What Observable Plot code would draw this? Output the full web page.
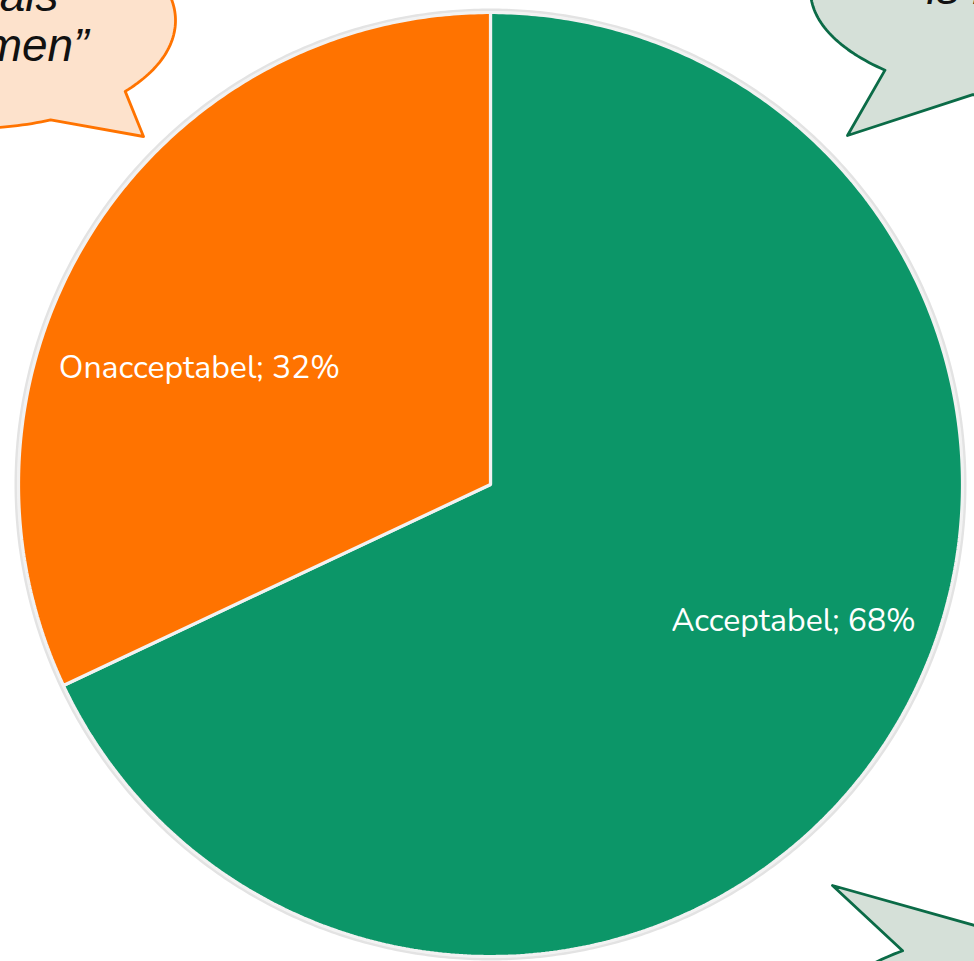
<!DOCTYPE html>
<html>
<head>
<meta charset="utf-8">
<script src="https://cdn.jsdelivr.net/npm/d3@7"></script>
<script src="https://cdn.jsdelivr.net/npm/@observablehq/plot@0.6"></script>
<style>
  html, body { margin: 0; padding: 0; background: #fff; overflow: hidden; }
  #chart svg { display: block; }
</style>
</head>
<body>
<div id="chart"></div>
<script>
// ---- data ----
const categories = ["Acceptabel", "Onacceptabel"];
const shares = [68, 32];
const colors = ["#0C9668", "#FF7300"];
const labels = ["Acceptabel; 68%", "Onacceptabel; 32%"];

// speech-bubble texts (partially visible at the edges)
const bubbleTextLeft = ["als", "men\u201D"];
const bubbleTextRight = ["is bu"];

// ---- layout ----
const W = 974, H = 961;
const cx = 490, cy = 484, R = 472;

const data = categories.map((c, i) => ({name: c, value: shares[i], label: labels[i]}));
const arcs = d3.pie().sort(null).value(d => d.value)(data);

const pt = (a, r) => ({x: cx + r * Math.sin(a), y: cy - r * Math.cos(a)});

// slice polygons
const slicePts = [];
for (const a of arcs) {
  slicePts.push({name: a.data.name, ...pt(0, 0)});
  const n = Math.ceil((a.endAngle - a.startAngle) / (Math.PI / 360));
  for (let k = 0; k <= n; k++) {
    const t = a.startAngle + (a.endAngle - a.startAngle) * k / n;
    slicePts.push({name: a.data.name, ...pt(t, R)});
  }
}
// outer ring
const ringPts = d3.range(0, 721).map(k => pt(k / 720 * 2 * Math.PI, R + 2.5));

// label anchors from mid-angles
const labelPts = arcs.map(a => ({name: a.data.name, label: a.data.label, ...pt((a.startAngle + a.endAngle) / 2, R * 0.65)}));

// speech bubbles: ellipse arc + tail tip
function bubble(id, ecx, ecy, rx, ry, t0, t1, tip) {
  const pts = [];
  const n = 240;
  for (let k = 0; k <= n; k++) {
    const t = (t0 + (t1 - t0) * k / n) * Math.PI / 180;
    pts.push({id, x: ecx + rx * Math.cos(t), y: ecy + ry * Math.sin(t)});
  }
  pts.push({id, x: tip[0], y: tip[1]});
  return pts;
}
const bubbleOrange = bubble("tl", -30, 20, 205, 108, 67, 401, [143, 136]);
const bubbleGreen = [
  ...bubble("tr", 1050, -10, 240, 110, 133.6, 468.9, [847, 135]),
  ...bubble("br", 1071, 1024, 250, 100, 251.1, 587.5, [832, 885])
];

const chart = Plot.plot({
  width: W,
  height: H,
  margin: 0,
  x: {domain: [0, W], range: [0, W], axis: null},
  y: {domain: [0, H], range: [0, H], axis: null},
  color: {domain: categories, range: colors},
  marks: [
    Plot.line(bubbleOrange, {x: "x", y: "y", z: "id", curve: "linear-closed", fill: "#FDE2CC", stroke: "#FF7300", strokeWidth: 2.8, clip: true}),
    Plot.line(bubbleGreen, {x: "x", y: "y", z: "id", curve: "linear-closed", fill: "#D5E0D8", stroke: "#0B6B47", strokeWidth: 2.8, clip: true}),
    Plot.text(bubbleTextLeft, {x: [58, 88], y: [10, 60], text: d => d, textAnchor: "end", lineAnchor: "bottom", fontSize: 46, fontStyle: "italic", fontFamily: "Liberation Sans, Arial, sans-serif", fill: "#111", clip: true}),
    Plot.text(bubbleTextRight, {x: [926], y: [3], text: d => d, textAnchor: "start", lineAnchor: "bottom", fontSize: 46, fontStyle: "italic", fontFamily: "Liberation Sans, Arial, sans-serif", fill: "#111", clip: true}),
    Plot.line(ringPts, {x: "x", y: "y", curve: "linear-closed", stroke: "#E3E3E3", strokeWidth: 3, fill: "none"}),
    Plot.line(slicePts, {x: "x", y: "y", z: "name", fill: "name", curve: "linear-closed", stroke: "#F2F2F2", strokeWidth: 3.2, strokeLinejoin: "miter"}),
    Plot.text(labelPts.filter(d => d.name === "Onacceptabel"), {x: "x", y: "y", text: "label", dx: -32, dy: 48, fill: "white", fontSize: 32, fontFamily: "Nunito, Lato, sans-serif", textAnchor: "middle"}),
    Plot.text(labelPts.filter(d => d.name === "Acceptabel"), {x: "x", y: "y", text: "label", dx: 44, dy: -28, fill: "white", fontSize: 32, fontFamily: "Nunito, Lato, sans-serif", textAnchor: "middle"})
  ]
});
document.getElementById("chart").append(chart);
</script>
</body>
</html>
